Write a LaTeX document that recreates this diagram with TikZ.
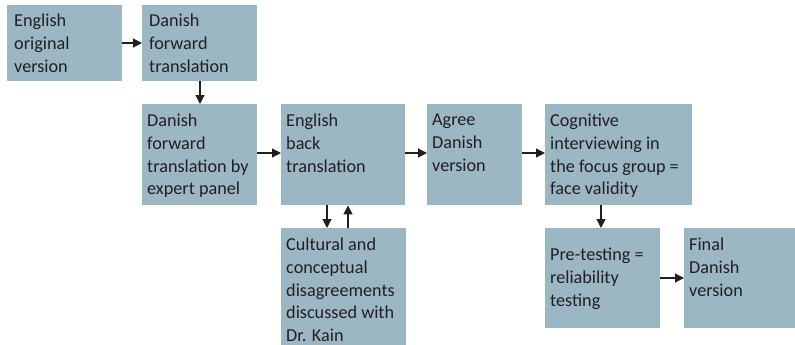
\documentclass[tikz,border=0pt]{standalone}
\usepackage{fontspec}
\setmainfont{Carlito}
\usetikzlibrary{arrows.meta}
\definecolor{boxfill}{RGB}{155,183,196}
\definecolor{ink}{RGB}{35,31,32}
\tikzset{
  box/.style={fill=boxfill, draw=none, inner sep=0pt, anchor=north west},
  txt/.style={anchor=north west, inner sep=0pt, align=left, text=ink,
    font=\fontsize{18.2pt}{22.7pt}\selectfont},
  arr/.style={draw=ink, line width=1.2pt, -{Triangle[length=9pt,width=9pt]}},
}
\begin{document}
\begin{tikzpicture}[x=1pt,y=-1pt]
\useasboundingbox (0,0) rectangle (795,345);
% boxes
\node[box, minimum width=115pt, minimum height=76pt] (b1) at (7,5) {};
\node[box, minimum width=115pt, minimum height=76pt] (b2) at (142,5) {};
\node[box, minimum width=115pt, minimum height=101pt] (b3) at (142,104) {};
\node[box, minimum width=124pt, minimum height=101pt] (b4) at (281,104) {};
\node[box, minimum width=95pt, minimum height=101pt] (b5) at (427,104) {};
\node[box, minimum width=147pt, minimum height=101pt] (b6) at (545,104) {};
\node[box, minimum width=125pt, minimum height=117pt] (b7) at (281,228) {};
\node[box, minimum width=115pt, minimum height=100pt] (b8) at (545,228) {};
\node[box, minimum width=111pt, minimum height=100pt] (b9) at (684,228) {};
% texts
\node[txt] (t1) at ([shift={(7,9)}]b1.north west) {English\\original\\version};
\node[txt] (t2) at ([shift={(7,9)}]b2.north west) {Danish\\forward\\translation};
\node[txt] (t3) at ([shift={(5,10)}]b3.north west) {Danish\\forward\\translation by\\expert panel};
\node[txt] (t4) at ([shift={(5,10)}]b4.north west) {English\\back\\translation};
\node[txt] (t5) at ([shift={(5,10)}]b5.north west) {Agree\\Danish\\version};
\node[txt] (t6) at ([shift={(5,10)}]b6.north west) {Cognitive\\interviewing in\\the focus group =\\face validity};
\node[txt] (t7) at ([shift={(5,10)}]b7.north west) {Cultural and\\conceptual\\disagreements\\discussed with\\Dr. Kain};
\node[txt] (t8) at ([shift={(5,20)}]b8.north west) {Pre-testing =\\reliability\\testing};
\node[txt] (t9) at ([shift={(5,10)}]b9.north west) {Final\\Danish\\version};
% arrows
\draw[arr] (b1.east |- 0,43) -- (b2.west |- 0,43);
\draw[arr] (b2.south -| 200,0) -- (b3.north -| 200,0);
\draw[arr] (b3.east |- 0,153) -- (b4.west |- 0,153);
\draw[arr] (b4.east |- 0,153) -- (b5.west |- 0,153);
\draw[arr] (b5.east |- 0,153) -- (b6.west |- 0,153);
\draw[arr] (b6.south -| 601,0) -- (b8.north -| 601,0);
\draw[arr] (b4.south -| 327,0) -- (b7.north -| 327,0);
\draw[arr] (b7.north -| 348,0) -- (b4.south -| 348,0);
\draw[arr] (b8.east |- 0,278) -- (b9.west |- 0,278);
\end{tikzpicture}
\end{document}
